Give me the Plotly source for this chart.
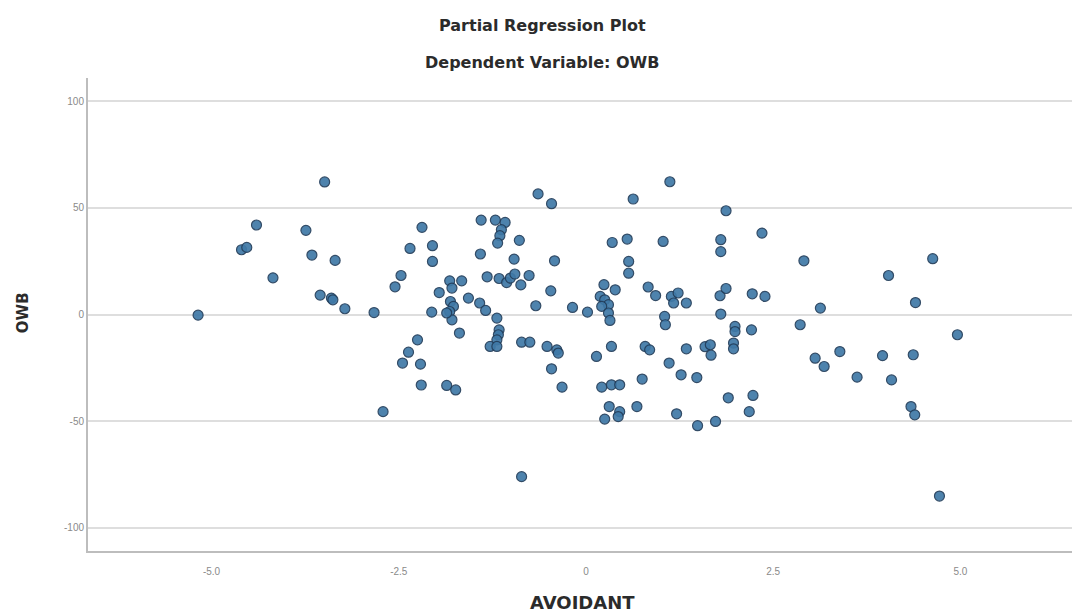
import plotly.graph_objects as go

# AVOIDANT (x) and OWB (y) partial residuals
avoidant = [
    -5.18, -3.49, -4.40, -4.60, -4.53, -3.74, -3.66, -3.35, -4.18, -3.55,
    -3.40, -3.38, -3.22, -2.83, -2.71, -2.35, -2.19, -2.47, -2.55, -2.25,
    -2.37, -2.45, -2.21, -2.20, -2.05, -2.05, -0.64, -0.46, 1.12, 0.63,
    1.87, -1.40, -1.21, -1.08, -1.13, -1.15, -1.18, -0.89, -1.41, -0.96,
    -0.42, 0.35, 0.55, 1.03, 1.80, 1.80, 0.57, 0.57, 2.35, 2.91,
    4.04, 4.63, 4.40, 3.13, -1.32, -1.16, -1.06, -1.01, -0.95, -0.87,
    -0.76, -1.82, -1.66, -1.79, -1.96, -1.57, -1.42, -1.34, -1.81, -1.77,
    -1.82, -1.79, -1.86, -2.06, -1.69, -1.19, -1.16, -1.17, -1.19, -1.28,
    -1.19, -0.47, -0.67, -0.18, 0.02, 0.24, 0.19, 0.25, 0.30, 0.21,
    0.30, 0.32, 0.39, 0.83, 0.93, 1.14, 1.23, 1.34, 1.17, 1.79,
    1.87, 1.80, 1.05, 1.06, -0.86, -0.75, -0.52, -0.39, -0.37, -0.46,
    -0.32, -1.86, -1.74, 0.14, 0.34, 0.79, 0.85, 1.34, 1.59, 1.66,
    1.67, 1.11, 1.27, 1.48, 0.75, 0.21, 0.34, 0.45, 0.68, 0.31,
    0.45, 0.43, 0.25, 1.21, 1.49, 1.73, 1.90, -0.86, 1.99, 1.99,
    2.21, 2.86, 4.96, 1.97, 1.97, 3.06, 3.18, 3.39, 3.96, 4.37,
    3.62, 4.08, 2.23, 2.18, 4.34, 4.39, 4.72, 2.22, 2.39,
]
owb = [
    -0.3, 62.2, 42.0, 30.4, 31.5, 39.5, 27.9, 25.4, 17.2, 9.1,
    7.7, 6.9, 2.7, 0.9, -45.6, 31.0, 40.9, 18.3, 13.0, -11.9,
    -17.7, -22.8, -23.3, -33.1, 32.3, 24.9, 56.6, 52.0, 62.3, 54.2,
    48.7, 44.3, 44.3, 43.2, 39.8, 37.0, 33.5, 34.8, 28.4, 26.0,
    25.2, 33.8, 35.4, 34.3, 35.1, 29.5, 24.9, 19.4, 38.2, 25.2,
    18.3, 26.2, 5.6, 3.0, 17.7, 16.9, 15.0, 17.1, 19.0, 13.9,
    18.3, 15.8, 15.8, 12.4, 10.3, 7.7, 5.4, 1.9, 6.1, 3.8,
    1.4, -2.5, 0.7, 1.1, -8.7, -1.7, -7.2, -9.5, -11.9, -15.0,
    -15.0, 11.1, 4.1, 3.3, 1.1, 14.0, 8.5, 6.9, 4.6, 3.8,
    0.7, -2.8, 11.6, 12.9, 8.9, 8.5, 10.1, 5.4, 5.4, 8.8,
    12.2, 0.2, -0.9, -4.8, -13.0, -13.0, -15.0, -16.6, -18.1, -25.5,
    -34.1, -33.3, -35.4, -19.7, -15.0, -15.0, -16.6, -16.1, -15.1, -14.2,
    -19.1, -22.8, -28.3, -29.6, -30.3, -34.1, -33.0, -33.0, -43.2, -43.2,
    -45.6, -47.9, -49.1, -46.6, -52.2, -50.2, -39.1, -76.1, -5.6, -8.0,
    -7.2, -4.8, -9.5, -13.4, -16.1, -20.5, -24.4, -17.4, -19.3, -18.9,
    -29.4, -30.7, -38.0, -45.6, -43.2, -47.1, -85.2, 9.7, 8.5,
]

x_tickvals = [-5.0, -2.5, 0.0, 2.5, 5.0]
x_ticktext = ["-5.0", "-2.5", "0", "2.5", "5.0"]
y_tickvals = [100, 50, 0, -50, -100]
y_ticktext = ["100", "50", "0", "-50", "-100"]

title_text = "Partial Regression Plot"
subtitle_text = "Dependent Variable: OWB"
x_title = "AVOIDANT"
y_title = "OWB"

fig = go.Figure()
fig.add_trace(go.Scatter(
    x=avoidant, y=owb, mode="markers",
    marker=dict(size=10, color="#3f79a7", opacity=0.92,
                line=dict(color="#223d5a", width=1.2)),
    hoverinfo="x+y", showlegend=False,
))

tick_font = dict(family="Liberation Sans, Arial, sans-serif", size=10, color="#8a8a8a")
bold_font = dict(family="DejaVu Sans, sans-serif", size=16, color="#2b2b2b")

fig.update_layout(
    width=1072, height=613,
    margin=dict(l=88, r=0, t=78, b=62),
    paper_bgcolor="white", plot_bgcolor="white",
    xaxis=dict(
        range=[-6.65, 6.49], tickvals=x_tickvals, ticktext=x_ticktext,
        showgrid=False, zeroline=False, showline=True,
        linecolor="#bdbdbd", linewidth=2, ticks="", tickfont=tick_font,
        ticklabelstandoff=10,
    ),
    yaxis=dict(
        range=[-111, 111], tickvals=y_tickvals, ticktext=y_ticktext,
        showgrid=True, gridcolor="#dedede", gridwidth=2, zeroline=False,
        showline=True, linecolor="#bdbdbd", linewidth=2, ticks="",
        tickfont=tick_font,
    ),
    annotations=[
        dict(text="<b>%s</b>" % title_text, xref="paper", yref="paper",
             x=0.462, y=1.112, showarrow=False, xanchor="center", yanchor="middle",
             font=bold_font),
        dict(text="<b>%s</b>" % subtitle_text, xref="paper", yref="paper",
             x=0.461, y=1.032, showarrow=False, xanchor="center", yanchor="middle",
             font=bold_font),
        dict(text="<b>%s</b>" % x_title, xref="paper", yref="paper",
             x=0.503, y=-0.108, showarrow=False, xanchor="center", yanchor="middle",
             font=dict(family="DejaVu Sans, sans-serif", size=18, color="#2b2b2b")),
        dict(text="<b>%s</b>" % y_title, xref="paper", yref="paper",
             x=-0.066, y=0.503, showarrow=False, xanchor="center", yanchor="middle",
             textangle=-90,
             font=dict(family="DejaVu Sans, sans-serif", size=15, color="#2b2b2b")),
    ],
)

fig.write_html("out.html")
